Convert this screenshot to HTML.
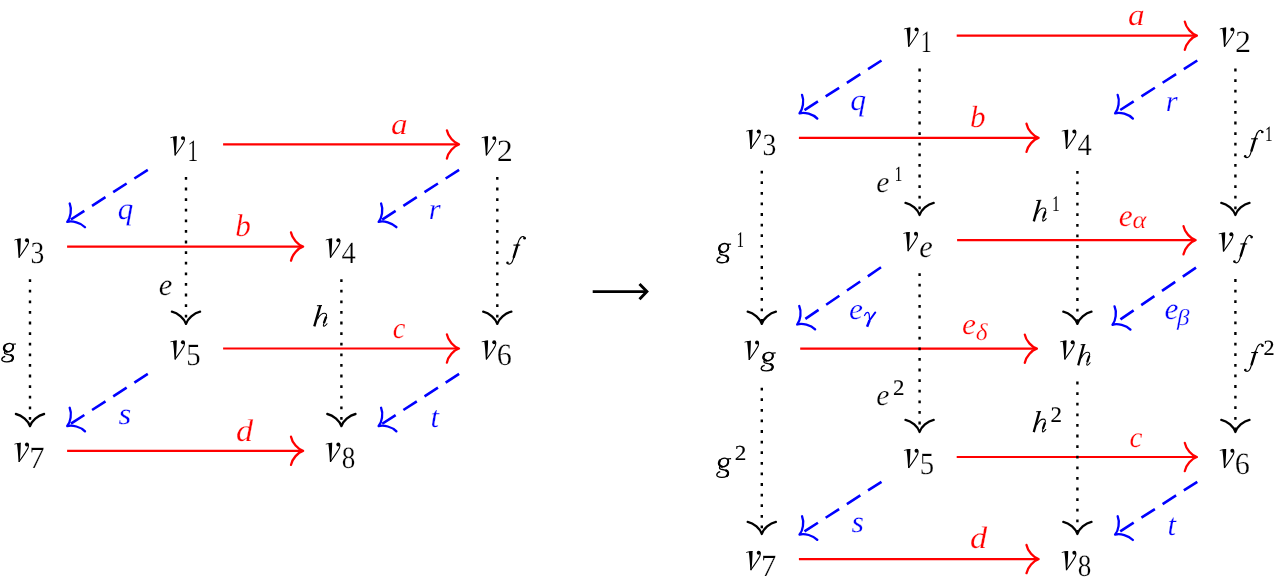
<!DOCTYPE html>
<html><head><meta charset="utf-8"><style>
html,body{margin:0;padding:0;background:#fff;overflow:hidden}
svg{display:block;font-family:"Liberation Serif",serif;will-change:transform}
text{text-rendering:geometricPrecision}
</style></head><body>
<svg width="1275" height="584" viewBox="0 0 1275 584">
<g transform="translate(170.10 136.00) scale(1.0000 1.0000)" fill="#000000"><path d="M0.1 1.7C1.6 0.9 3.2 0.5 6.5 0.3L6.5 1.3C4.0 1.3 2.2 1.6 0.3 2.2Z"/><path d="M2.8 0.9C3.6 6.0 4.1 13.0 4.4 19.5L5.6 19.5C6.3 13.0 6.6 6.0 6.7 0.3Z"/><path d="M4.9 19.3C8.4 14.5 12.4 9.0 13.9 5.6C14.5 4.1 14.6 2.6 13.9 1.6" fill="none" stroke="#000000" stroke-width="1.1"/><circle cx="12.8" cy="2.1" r="1.95"/></g>
<text transform="translate(187.15 161.10) scale(0.7170 1)" font-size="30.90" font-style="normal" fill="#000000" stroke="#fff" stroke-width="0.25" vector-effect="non-scaling-stroke">1</text>
<g transform="translate(481.40 136.00) scale(1.0000 1.0000)" fill="#000000"><path d="M0.1 1.7C1.6 0.9 3.2 0.5 6.5 0.3L6.5 1.3C4.0 1.3 2.2 1.6 0.3 2.2Z"/><path d="M2.8 0.9C3.6 6.0 4.1 13.0 4.4 19.5L5.6 19.5C6.3 13.0 6.6 6.0 6.7 0.3Z"/><path d="M4.9 19.3C8.4 14.5 12.4 9.0 13.9 5.6C14.5 4.1 14.6 2.6 13.9 1.6" fill="none" stroke="#000000" stroke-width="1.1"/><circle cx="12.8" cy="2.1" r="1.95"/></g>
<text transform="translate(496.79 161.10) scale(1.0414 1)" font-size="30.90" font-style="normal" fill="#000000" stroke="#fff" stroke-width="0.25" vector-effect="non-scaling-stroke">2</text>
<g transform="translate(14.10 238.20) scale(1.0000 1.0000)" fill="#000000"><path d="M0.1 1.7C1.6 0.9 3.2 0.5 6.5 0.3L6.5 1.3C4.0 1.3 2.2 1.6 0.3 2.2Z"/><path d="M2.8 0.9C3.6 6.0 4.1 13.0 4.4 19.5L5.6 19.5C6.3 13.0 6.6 6.0 6.7 0.3Z"/><path d="M4.9 19.3C8.4 14.5 12.4 9.0 13.9 5.6C14.5 4.1 14.6 2.6 13.9 1.6" fill="none" stroke="#000000" stroke-width="1.1"/><circle cx="12.8" cy="2.1" r="1.95"/></g>
<text transform="translate(30.58 263.30) scale(0.8931 1)" font-size="30.90" font-style="normal" fill="#000000" stroke="#fff" stroke-width="0.25" vector-effect="non-scaling-stroke">3</text>
<g transform="translate(325.50 238.20) scale(1.0000 1.0000)" fill="#000000"><path d="M0.1 1.7C1.6 0.9 3.2 0.5 6.5 0.3L6.5 1.3C4.0 1.3 2.2 1.6 0.3 2.2Z"/><path d="M2.8 0.9C3.6 6.0 4.1 13.0 4.4 19.5L5.6 19.5C6.3 13.0 6.6 6.0 6.7 0.3Z"/><path d="M4.9 19.3C8.4 14.5 12.4 9.0 13.9 5.6C14.5 4.1 14.6 2.6 13.9 1.6" fill="none" stroke="#000000" stroke-width="1.1"/><circle cx="12.8" cy="2.1" r="1.95"/></g>
<text transform="translate(341.54 263.30) scale(0.9259 1)" font-size="30.90" font-style="normal" fill="#000000" stroke="#fff" stroke-width="0.25" vector-effect="non-scaling-stroke">4</text>
<g transform="translate(170.10 340.10) scale(1.0000 1.0000)" fill="#000000"><path d="M0.1 1.7C1.6 0.9 3.2 0.5 6.5 0.3L6.5 1.3C4.0 1.3 2.2 1.6 0.3 2.2Z"/><path d="M2.8 0.9C3.6 6.0 4.1 13.0 4.4 19.5L5.6 19.5C6.3 13.0 6.6 6.0 6.7 0.3Z"/><path d="M4.9 19.3C8.4 14.5 12.4 9.0 13.9 5.6C14.5 4.1 14.6 2.6 13.9 1.6" fill="none" stroke="#000000" stroke-width="1.1"/><circle cx="12.8" cy="2.1" r="1.95"/></g>
<text transform="translate(186.13 365.20) scale(0.9319 1)" font-size="30.90" font-style="normal" fill="#000000" stroke="#fff" stroke-width="0.25" vector-effect="non-scaling-stroke">5</text>
<g transform="translate(481.40 340.10) scale(1.0000 1.0000)" fill="#000000"><path d="M0.1 1.7C1.6 0.9 3.2 0.5 6.5 0.3L6.5 1.3C4.0 1.3 2.2 1.6 0.3 2.2Z"/><path d="M2.8 0.9C3.6 6.0 4.1 13.0 4.4 19.5L5.6 19.5C6.3 13.0 6.6 6.0 6.7 0.3Z"/><path d="M4.9 19.3C8.4 14.5 12.4 9.0 13.9 5.6C14.5 4.1 14.6 2.6 13.9 1.6" fill="none" stroke="#000000" stroke-width="1.1"/><circle cx="12.8" cy="2.1" r="1.95"/></g>
<text transform="translate(496.70 365.20) scale(0.9771 1)" font-size="30.90" font-style="normal" fill="#000000" stroke="#fff" stroke-width="0.25" vector-effect="non-scaling-stroke">6</text>
<g transform="translate(14.10 442.40) scale(1.0000 1.0000)" fill="#000000"><path d="M0.1 1.7C1.6 0.9 3.2 0.5 6.5 0.3L6.5 1.3C4.0 1.3 2.2 1.6 0.3 2.2Z"/><path d="M2.8 0.9C3.6 6.0 4.1 13.0 4.4 19.5L5.6 19.5C6.3 13.0 6.6 6.0 6.7 0.3Z"/><path d="M4.9 19.3C8.4 14.5 12.4 9.0 13.9 5.6C14.5 4.1 14.6 2.6 13.9 1.6" fill="none" stroke="#000000" stroke-width="1.1"/><circle cx="12.8" cy="2.1" r="1.95"/></g>
<text transform="translate(29.28 467.50) scale(0.9902 1)" font-size="30.90" font-style="normal" fill="#000000" stroke="#fff" stroke-width="0.25" vector-effect="non-scaling-stroke">7</text>
<g transform="translate(325.50 442.40) scale(1.0000 1.0000)" fill="#000000"><path d="M0.1 1.7C1.6 0.9 3.2 0.5 6.5 0.3L6.5 1.3C4.0 1.3 2.2 1.6 0.3 2.2Z"/><path d="M2.8 0.9C3.6 6.0 4.1 13.0 4.4 19.5L5.6 19.5C6.3 13.0 6.6 6.0 6.7 0.3Z"/><path d="M4.9 19.3C8.4 14.5 12.4 9.0 13.9 5.6C14.5 4.1 14.6 2.6 13.9 1.6" fill="none" stroke="#000000" stroke-width="1.1"/><circle cx="12.8" cy="2.1" r="1.95"/></g>
<text transform="translate(341.67 467.50) scale(0.8781 1)" font-size="30.90" font-style="normal" fill="#000000" stroke="#fff" stroke-width="0.25" vector-effect="non-scaling-stroke">8</text>
<line x1="223.10" y1="144.40" x2="458.00" y2="144.40" stroke="#ff0000" stroke-width="2.2"/>
<path d="M446.90 158.50C448.00 152.40 454.00 145.90 459.00 144.40C454.00 142.90 448.00 136.40 446.90 130.30" fill="none" stroke="#ff0000" stroke-width="2.30" stroke-linecap="round" stroke-linejoin="round"/>
<line x1="67.10" y1="246.60" x2="302.10" y2="246.60" stroke="#ff0000" stroke-width="2.2"/>
<path d="M291.00 260.70C292.10 254.60 298.10 248.10 303.10 246.60C298.10 245.10 292.10 238.60 291.00 232.50" fill="none" stroke="#ff0000" stroke-width="2.30" stroke-linecap="round" stroke-linejoin="round"/>
<line x1="223.10" y1="348.50" x2="458.00" y2="348.50" stroke="#ff0000" stroke-width="2.2"/>
<path d="M446.90 362.60C448.00 356.50 454.00 350.00 459.00 348.50C454.00 347.00 448.00 340.50 446.90 334.40" fill="none" stroke="#ff0000" stroke-width="2.30" stroke-linecap="round" stroke-linejoin="round"/>
<line x1="67.10" y1="450.80" x2="302.10" y2="450.80" stroke="#ff0000" stroke-width="2.2"/>
<path d="M291.00 464.90C292.10 458.80 298.10 452.30 303.10 450.80C298.10 449.30 292.10 442.80 291.00 436.70" fill="none" stroke="#ff0000" stroke-width="2.30" stroke-linecap="round" stroke-linejoin="round"/>
<line x1="186.00" y1="177.00" x2="186.00" y2="322.40" stroke="#000000" stroke-width="2.4" stroke-dasharray="2.8 7.8"/>
<path d="M171.90 311.70C178.00 312.80 184.50 318.80 186.00 323.80C187.50 318.80 194.00 312.80 200.10 311.70" fill="none" stroke="#000000" stroke-width="2.30" stroke-linecap="round" stroke-linejoin="round"/>
<line x1="497.30" y1="177.00" x2="497.30" y2="322.40" stroke="#000000" stroke-width="2.4" stroke-dasharray="2.8 7.8"/>
<path d="M483.20 311.70C489.30 312.80 495.80 318.80 497.30 323.80C498.80 318.80 505.30 312.80 511.40 311.70" fill="none" stroke="#000000" stroke-width="2.30" stroke-linecap="round" stroke-linejoin="round"/>
<line x1="30.00" y1="279.20" x2="30.00" y2="424.70" stroke="#000000" stroke-width="2.4" stroke-dasharray="2.8 7.8"/>
<path d="M15.90 414.00C22.00 415.10 28.50 421.10 30.00 426.10C31.50 421.10 38.00 415.10 44.10 414.00" fill="none" stroke="#000000" stroke-width="2.30" stroke-linecap="round" stroke-linejoin="round"/>
<line x1="341.40" y1="279.20" x2="341.40" y2="424.70" stroke="#000000" stroke-width="2.4" stroke-dasharray="2.8 7.8"/>
<path d="M327.30 414.00C333.40 415.10 339.90 421.10 341.40 426.10C342.90 421.10 349.40 415.10 355.50 414.00" fill="none" stroke="#000000" stroke-width="2.30" stroke-linecap="round" stroke-linejoin="round"/>
<line x1="147.80" y1="169.80" x2="68.04" y2="221.36" stroke="#0000ff" stroke-width="2.6" stroke-dasharray="16 9.2"/>
<path d="M69.71 203.49C72.10 209.21 70.58 217.93 67.20 221.90C72.21 220.45 80.78 222.65 85.02 227.17" fill="none" stroke="#0000ff" stroke-width="2.30" stroke-linecap="round" stroke-linejoin="round"/>
<line x1="459.10" y1="169.80" x2="379.44" y2="221.36" stroke="#0000ff" stroke-width="2.6" stroke-dasharray="16 9.2"/>
<path d="M381.10 203.49C383.49 209.21 381.98 217.92 378.60 221.90C383.61 220.44 392.18 222.64 396.42 227.16" fill="none" stroke="#0000ff" stroke-width="2.30" stroke-linecap="round" stroke-linejoin="round"/>
<line x1="147.80" y1="373.90" x2="68.04" y2="425.56" stroke="#0000ff" stroke-width="2.6" stroke-dasharray="16 9.2"/>
<path d="M69.69 407.69C72.08 413.41 70.58 422.12 67.20 426.10C72.21 424.64 80.78 426.84 85.02 431.36" fill="none" stroke="#0000ff" stroke-width="2.30" stroke-linecap="round" stroke-linejoin="round"/>
<line x1="459.10" y1="373.90" x2="379.44" y2="425.56" stroke="#0000ff" stroke-width="2.6" stroke-dasharray="16 9.2"/>
<path d="M381.08 407.69C383.48 413.40 381.98 422.12 378.60 426.10C383.61 424.64 392.18 426.83 396.42 431.35" fill="none" stroke="#0000ff" stroke-width="2.30" stroke-linecap="round" stroke-linejoin="round"/>
<text transform="translate(391.01 133.99) scale(1.1117 1)" font-size="29.94" font-style="italic" fill="#ff0000" stroke="#fff" stroke-width="0.25" vector-effect="non-scaling-stroke">a</text>
<text transform="translate(235.34 236.19) scale(0.9890 1)" font-size="31.55" font-style="italic" fill="#ff0000" stroke="#fff" stroke-width="0.25" vector-effect="non-scaling-stroke">b</text>
<text transform="translate(392.63 338.21) scale(0.9463 1)" font-size="29.94" font-style="italic" fill="#ff0000" stroke="#fff" stroke-width="0.25" vector-effect="non-scaling-stroke">c</text>
<text transform="translate(236.06 440.58) scale(1.0882 1)" font-size="31.53" font-style="italic" fill="#ff0000" stroke="#fff" stroke-width="0.25" vector-effect="non-scaling-stroke">d</text>
<text transform="translate(117.77 219.36) scale(1.0139 1)" font-size="30.70" font-style="italic" fill="#0000ff" stroke="#fff" stroke-width="0.25" vector-effect="non-scaling-stroke">q</text>
<text transform="translate(428.86 219.40) scale(1.0266 1)" font-size="29.92" font-style="italic" fill="#0000ff" stroke="#fff" stroke-width="0.25" vector-effect="non-scaling-stroke">r</text>
<text transform="translate(118.50 423.50) scale(1.0759 1)" font-size="30.56" font-style="italic" fill="#0000ff" stroke="#fff" stroke-width="0.25" vector-effect="non-scaling-stroke">s</text>
<text transform="translate(430.55 426.80) scale(1.0112 1)" font-size="30.38" font-style="italic" fill="#0000ff" stroke="#fff" stroke-width="0.25" vector-effect="non-scaling-stroke">t</text>
<text transform="translate(158.66 294.70) scale(1.0051 1)" font-size="30.56" font-style="italic" fill="#000000" stroke="#fff" stroke-width="0.25" vector-effect="non-scaling-stroke">e</text>
<g transform="translate(506.20 236.20) scale(1.0000 1.0000)" fill="none" stroke="#000000" stroke-linecap="round"><path d="M18.3 1.9C18.2 0.4 16.6 -0.1 15.2 0.8C13.6 1.9 12.6 4.0 11.8 6.9L7.0 22.9C6.2 25.8 4.6 27.9 3.0 27.9C1.9 27.9 1.1 27.3 1.0 26.6" stroke-width="1.15"/><path d="M11.3 8.6L7.6 20.8" stroke-width="2.4"/><path d="M7.2 8.9H14.0" stroke-width="1.1" stroke-linecap="butt"/><circle cx="18.4" cy="2.0" r="1.35" fill="#000000" stroke="none"/><circle cx="1.3" cy="26.6" r="1.25" fill="#000000" stroke="none"/></g>
<g transform="translate(1.00 342.70) scale(1.0000 1.0000)" fill="none" stroke="#000000"><ellipse cx="7.6" cy="4.9" rx="4.9" ry="3.9" transform="rotate(-22 7.6 4.9)" stroke-width="1.45"/><path d="M10.6 1.6L15.0 1.3" stroke-width="1.1"/><path d="M3.8 3.1Q1.5 7.4 5.8 8.9" stroke-width="2.3" stroke-linecap="round"/><path d="M12.0 2.4Q12.7 5.0 11.2 6.9" stroke-width="1.8" stroke-linecap="round"/><path d="M10.0 12.4C12.2 13.3 12.8 15.5 10.8 17.8" stroke-width="2.2" stroke-linecap="round"/><path d="M4.6 8.4C3.2 9.4 3.0 10.6 4.6 11.2C7.5 12.0 11.6 12.4 12.3 14.8C12.9 17.2 9.6 19.2 5.6 19.1C2.2 19.0 0.6 17.9 0.8 16.5C1.0 15.1 2.4 14.1 4.2 13.6" stroke-width="1.35"/></g>
<g transform="translate(313.00 305.10) scale(1.0000 1.0000)" fill="none" stroke="#000000"><path d="M3.9 0.75L9.0 0.45" stroke-width="1.05"/><path d="M7.3 0.6L1.3 21.3" stroke-width="2.4"/><path d="M4.6 13.8C6.4 10.6 9.0 8.2 11.5 8.2C13.3 8.2 13.9 9.6 13.4 11.3L10.7 18.8C10.1 20.5 10.4 21.3 11.1 21.1C12.1 20.8 13.2 19.7 14.0 18.6" stroke-width="1.05" stroke-linecap="round"/><path d="M13.2 11.6L10.9 18.0" stroke-width="2.3"/></g>
<g transform="translate(903.70 27.30) scale(1.0000 1.0000)" fill="#000000"><path d="M0.1 1.7C1.6 0.9 3.2 0.5 6.5 0.3L6.5 1.3C4.0 1.3 2.2 1.6 0.3 2.2Z"/><path d="M2.8 0.9C3.6 6.0 4.1 13.0 4.4 19.5L5.6 19.5C6.3 13.0 6.6 6.0 6.7 0.3Z"/><path d="M4.9 19.3C8.4 14.5 12.4 9.0 13.9 5.6C14.5 4.1 14.6 2.6 13.9 1.6" fill="none" stroke="#000000" stroke-width="1.1"/><circle cx="12.8" cy="2.1" r="1.95"/></g>
<text transform="translate(920.75 52.40) scale(0.7170 1)" font-size="30.90" font-style="normal" fill="#000000" stroke="#fff" stroke-width="0.25" vector-effect="non-scaling-stroke">1</text>
<g transform="translate(1219.50 27.30) scale(1.0000 1.0000)" fill="#000000"><path d="M0.1 1.7C1.6 0.9 3.2 0.5 6.5 0.3L6.5 1.3C4.0 1.3 2.2 1.6 0.3 2.2Z"/><path d="M2.8 0.9C3.6 6.0 4.1 13.0 4.4 19.5L5.6 19.5C6.3 13.0 6.6 6.0 6.7 0.3Z"/><path d="M4.9 19.3C8.4 14.5 12.4 9.0 13.9 5.6C14.5 4.1 14.6 2.6 13.9 1.6" fill="none" stroke="#000000" stroke-width="1.1"/><circle cx="12.8" cy="2.1" r="1.95"/></g>
<text transform="translate(1234.89 52.40) scale(1.0414 1)" font-size="30.90" font-style="normal" fill="#000000" stroke="#fff" stroke-width="0.25" vector-effect="non-scaling-stroke">2</text>
<g transform="translate(745.90 129.40) scale(1.0000 1.0000)" fill="#000000"><path d="M0.1 1.7C1.6 0.9 3.2 0.5 6.5 0.3L6.5 1.3C4.0 1.3 2.2 1.6 0.3 2.2Z"/><path d="M2.8 0.9C3.6 6.0 4.1 13.0 4.4 19.5L5.6 19.5C6.3 13.0 6.6 6.0 6.7 0.3Z"/><path d="M4.9 19.3C8.4 14.5 12.4 9.0 13.9 5.6C14.5 4.1 14.6 2.6 13.9 1.6" fill="none" stroke="#000000" stroke-width="1.1"/><circle cx="12.8" cy="2.1" r="1.95"/></g>
<text transform="translate(762.38 154.50) scale(0.8931 1)" font-size="30.90" font-style="normal" fill="#000000" stroke="#fff" stroke-width="0.25" vector-effect="non-scaling-stroke">3</text>
<g transform="translate(1061.50 129.40) scale(1.0000 1.0000)" fill="#000000"><path d="M0.1 1.7C1.6 0.9 3.2 0.5 6.5 0.3L6.5 1.3C4.0 1.3 2.2 1.6 0.3 2.2Z"/><path d="M2.8 0.9C3.6 6.0 4.1 13.0 4.4 19.5L5.6 19.5C6.3 13.0 6.6 6.0 6.7 0.3Z"/><path d="M4.9 19.3C8.4 14.5 12.4 9.0 13.9 5.6C14.5 4.1 14.6 2.6 13.9 1.6" fill="none" stroke="#000000" stroke-width="1.1"/><circle cx="12.8" cy="2.1" r="1.95"/></g>
<text transform="translate(1077.54 154.50) scale(0.9259 1)" font-size="30.90" font-style="normal" fill="#000000" stroke="#fff" stroke-width="0.25" vector-effect="non-scaling-stroke">4</text>
<g transform="translate(903.70 448.60) scale(1.0000 1.0000)" fill="#000000"><path d="M0.1 1.7C1.6 0.9 3.2 0.5 6.5 0.3L6.5 1.3C4.0 1.3 2.2 1.6 0.3 2.2Z"/><path d="M2.8 0.9C3.6 6.0 4.1 13.0 4.4 19.5L5.6 19.5C6.3 13.0 6.6 6.0 6.7 0.3Z"/><path d="M4.9 19.3C8.4 14.5 12.4 9.0 13.9 5.6C14.5 4.1 14.6 2.6 13.9 1.6" fill="none" stroke="#000000" stroke-width="1.1"/><circle cx="12.8" cy="2.1" r="1.95"/></g>
<text transform="translate(919.73 473.70) scale(0.9319 1)" font-size="30.90" font-style="normal" fill="#000000" stroke="#fff" stroke-width="0.25" vector-effect="non-scaling-stroke">5</text>
<g transform="translate(1219.50 448.60) scale(1.0000 1.0000)" fill="#000000"><path d="M0.1 1.7C1.6 0.9 3.2 0.5 6.5 0.3L6.5 1.3C4.0 1.3 2.2 1.6 0.3 2.2Z"/><path d="M2.8 0.9C3.6 6.0 4.1 13.0 4.4 19.5L5.6 19.5C6.3 13.0 6.6 6.0 6.7 0.3Z"/><path d="M4.9 19.3C8.4 14.5 12.4 9.0 13.9 5.6C14.5 4.1 14.6 2.6 13.9 1.6" fill="none" stroke="#000000" stroke-width="1.1"/><circle cx="12.8" cy="2.1" r="1.95"/></g>
<text transform="translate(1234.80 473.70) scale(0.9771 1)" font-size="30.90" font-style="normal" fill="#000000" stroke="#fff" stroke-width="0.25" vector-effect="non-scaling-stroke">6</text>
<g transform="translate(745.90 550.70) scale(1.0000 1.0000)" fill="#000000"><path d="M0.1 1.7C1.6 0.9 3.2 0.5 6.5 0.3L6.5 1.3C4.0 1.3 2.2 1.6 0.3 2.2Z"/><path d="M2.8 0.9C3.6 6.0 4.1 13.0 4.4 19.5L5.6 19.5C6.3 13.0 6.6 6.0 6.7 0.3Z"/><path d="M4.9 19.3C8.4 14.5 12.4 9.0 13.9 5.6C14.5 4.1 14.6 2.6 13.9 1.6" fill="none" stroke="#000000" stroke-width="1.1"/><circle cx="12.8" cy="2.1" r="1.95"/></g>
<text transform="translate(761.08 575.80) scale(0.9902 1)" font-size="30.90" font-style="normal" fill="#000000" stroke="#fff" stroke-width="0.25" vector-effect="non-scaling-stroke">7</text>
<g transform="translate(1061.50 550.70) scale(1.0000 1.0000)" fill="#000000"><path d="M0.1 1.7C1.6 0.9 3.2 0.5 6.5 0.3L6.5 1.3C4.0 1.3 2.2 1.6 0.3 2.2Z"/><path d="M2.8 0.9C3.6 6.0 4.1 13.0 4.4 19.5L5.6 19.5C6.3 13.0 6.6 6.0 6.7 0.3Z"/><path d="M4.9 19.3C8.4 14.5 12.4 9.0 13.9 5.6C14.5 4.1 14.6 2.6 13.9 1.6" fill="none" stroke="#000000" stroke-width="1.1"/><circle cx="12.8" cy="2.1" r="1.95"/></g>
<text transform="translate(1077.67 575.80) scale(0.8781 1)" font-size="30.90" font-style="normal" fill="#000000" stroke="#fff" stroke-width="0.25" vector-effect="non-scaling-stroke">8</text>
<g transform="translate(903.10 231.70) scale(1.0000 1.0000)" fill="#000000"><path d="M0.1 1.7C1.6 0.9 3.2 0.5 6.5 0.3L6.5 1.3C4.0 1.3 2.2 1.6 0.3 2.2Z"/><path d="M2.8 0.9C3.6 6.0 4.1 13.0 4.4 19.5L5.6 19.5C6.3 13.0 6.6 6.0 6.7 0.3Z"/><path d="M4.9 19.3C8.4 14.5 12.4 9.0 13.9 5.6C14.5 4.1 14.6 2.6 13.9 1.6" fill="none" stroke="#000000" stroke-width="1.1"/><circle cx="12.8" cy="2.1" r="1.95"/></g>
<text transform="translate(919.36 257.10) scale(0.9768 1)" font-size="31.19" font-style="italic" fill="#000000" stroke="#fff" stroke-width="0.25" vector-effect="non-scaling-stroke">e</text>
<g transform="translate(1218.50 232.10) scale(1.0000 1.0000)" fill="#000000"><path d="M0.1 1.7C1.6 0.9 3.2 0.5 6.5 0.3L6.5 1.3C4.0 1.3 2.2 1.6 0.3 2.2Z"/><path d="M2.8 0.9C3.6 6.0 4.1 13.0 4.4 19.5L5.6 19.5C6.3 13.0 6.6 6.0 6.7 0.3Z"/><path d="M4.9 19.3C8.4 14.5 12.4 9.0 13.9 5.6C14.5 4.1 14.6 2.6 13.9 1.6" fill="none" stroke="#000000" stroke-width="1.1"/><circle cx="12.8" cy="2.1" r="1.95"/></g>
<g transform="translate(1233.10 235.10) scale(1.0051 0.9930)" fill="none" stroke="#000000" stroke-linecap="round"><path d="M18.3 1.9C18.2 0.4 16.6 -0.1 15.2 0.8C13.6 1.9 12.6 4.0 11.8 6.9L7.0 22.9C6.2 25.8 4.6 27.9 3.0 27.9C1.9 27.9 1.1 27.3 1.0 26.6" stroke-width="1.15"/><path d="M11.3 8.6L7.6 20.8" stroke-width="2.4"/><path d="M7.2 8.9H14.0" stroke-width="1.1" stroke-linecap="butt"/><circle cx="18.4" cy="2.0" r="1.35" fill="#000000" stroke="none"/><circle cx="1.3" cy="26.6" r="1.25" fill="#000000" stroke="none"/></g>
<g transform="translate(744.20 340.40) scale(1.0000 1.0000)" fill="#000000"><path d="M0.1 1.7C1.6 0.9 3.2 0.5 6.5 0.3L6.5 1.3C4.0 1.3 2.2 1.6 0.3 2.2Z"/><path d="M2.8 0.9C3.6 6.0 4.1 13.0 4.4 19.5L5.6 19.5C6.3 13.0 6.6 6.0 6.7 0.3Z"/><path d="M4.9 19.3C8.4 14.5 12.4 9.0 13.9 5.6C14.5 4.1 14.6 2.6 13.9 1.6" fill="none" stroke="#000000" stroke-width="1.1"/><circle cx="12.8" cy="2.1" r="1.95"/></g>
<g transform="translate(760.40 351.60) scale(1.0199 1.0101)" fill="none" stroke="#000000"><ellipse cx="7.6" cy="4.9" rx="4.9" ry="3.9" transform="rotate(-22 7.6 4.9)" stroke-width="1.45"/><path d="M10.6 1.6L15.0 1.3" stroke-width="1.1"/><path d="M3.8 3.1Q1.5 7.4 5.8 8.9" stroke-width="2.3" stroke-linecap="round"/><path d="M12.0 2.4Q12.7 5.0 11.2 6.9" stroke-width="1.8" stroke-linecap="round"/><path d="M10.0 12.4C12.2 13.3 12.8 15.5 10.8 17.8" stroke-width="2.2" stroke-linecap="round"/><path d="M4.6 8.4C3.2 9.4 3.0 10.6 4.6 11.2C7.5 12.0 11.6 12.4 12.3 14.8C12.9 17.2 9.6 19.2 5.6 19.1C2.2 19.0 0.6 17.9 0.8 16.5C1.0 15.1 2.4 14.1 4.2 13.6" stroke-width="1.35"/></g>
<g transform="translate(1059.80 340.10) scale(1.0000 1.0000)" fill="#000000"><path d="M0.1 1.7C1.6 0.9 3.2 0.5 6.5 0.3L6.5 1.3C4.0 1.3 2.2 1.6 0.3 2.2Z"/><path d="M2.8 0.9C3.6 6.0 4.1 13.0 4.4 19.5L5.6 19.5C6.3 13.0 6.6 6.0 6.7 0.3Z"/><path d="M4.9 19.3C8.4 14.5 12.4 9.0 13.9 5.6C14.5 4.1 14.6 2.6 13.9 1.6" fill="none" stroke="#000000" stroke-width="1.1"/><circle cx="12.8" cy="2.1" r="1.95"/></g>
<g transform="translate(1077.00 344.00) scale(0.9362 1.0046)" fill="none" stroke="#000000"><path d="M3.9 0.75L9.0 0.45" stroke-width="1.05"/><path d="M7.3 0.6L1.3 21.3" stroke-width="2.4"/><path d="M4.6 13.8C6.4 10.6 9.0 8.2 11.5 8.2C13.3 8.2 13.9 9.6 13.4 11.3L10.7 18.8C10.1 20.5 10.4 21.3 11.1 21.1C12.1 20.8 13.2 19.7 14.0 18.6" stroke-width="1.05" stroke-linecap="round"/><path d="M13.2 11.6L10.9 18.0" stroke-width="2.3"/></g>
<line x1="956.70" y1="35.70" x2="1195.90" y2="35.70" stroke="#ff0000" stroke-width="2.2"/>
<path d="M1184.80 49.80C1185.90 43.70 1191.90 37.20 1196.90 35.70C1191.90 34.20 1185.90 27.70 1184.80 21.60" fill="none" stroke="#ff0000" stroke-width="2.30" stroke-linecap="round" stroke-linejoin="round"/>
<line x1="798.90" y1="137.80" x2="1037.60" y2="137.80" stroke="#ff0000" stroke-width="2.2"/>
<path d="M1026.50 151.90C1027.60 145.80 1033.60 139.30 1038.60 137.80C1033.60 136.30 1027.60 129.80 1026.50 123.70" fill="none" stroke="#ff0000" stroke-width="2.30" stroke-linecap="round" stroke-linejoin="round"/>
<line x1="957.10" y1="240.20" x2="1194.60" y2="240.20" stroke="#ff0000" stroke-width="2.2"/>
<path d="M1183.50 254.30C1184.60 248.20 1190.60 241.70 1195.60 240.20C1190.60 238.70 1184.60 232.20 1183.50 226.10" fill="none" stroke="#ff0000" stroke-width="2.30" stroke-linecap="round" stroke-linejoin="round"/>
<line x1="800.20" y1="348.70" x2="1035.90" y2="348.70" stroke="#ff0000" stroke-width="2.2"/>
<path d="M1024.80 362.80C1025.90 356.70 1031.90 350.20 1036.90 348.70C1031.90 347.20 1025.90 340.70 1024.80 334.60" fill="none" stroke="#ff0000" stroke-width="2.30" stroke-linecap="round" stroke-linejoin="round"/>
<line x1="956.70" y1="457.00" x2="1195.90" y2="457.00" stroke="#ff0000" stroke-width="2.2"/>
<path d="M1184.80 471.10C1185.90 465.00 1191.90 458.50 1196.90 457.00C1191.90 455.50 1185.90 449.00 1184.80 442.90" fill="none" stroke="#ff0000" stroke-width="2.30" stroke-linecap="round" stroke-linejoin="round"/>
<line x1="798.90" y1="559.10" x2="1037.60" y2="559.10" stroke="#ff0000" stroke-width="2.2"/>
<path d="M1026.50 573.20C1027.60 567.10 1033.60 560.60 1038.60 559.10C1033.60 557.60 1027.60 551.10 1026.50 545.00" fill="none" stroke="#ff0000" stroke-width="2.30" stroke-linecap="round" stroke-linejoin="round"/>
<line x1="919.60" y1="68.60" x2="919.60" y2="213.60" stroke="#000000" stroke-width="2.4" stroke-dasharray="2.8 7.8"/>
<path d="M905.50 202.90C911.60 204.00 918.10 210.00 919.60 215.00C921.10 210.00 927.60 204.00 933.70 202.90" fill="none" stroke="#000000" stroke-width="2.30" stroke-linecap="round" stroke-linejoin="round"/>
<line x1="1235.40" y1="68.60" x2="1235.40" y2="213.60" stroke="#000000" stroke-width="2.4" stroke-dasharray="2.8 7.8"/>
<path d="M1221.30 202.90C1227.40 204.00 1233.90 210.00 1235.40 215.00C1236.90 210.00 1243.40 204.00 1249.50 202.90" fill="none" stroke="#000000" stroke-width="2.30" stroke-linecap="round" stroke-linejoin="round"/>
<line x1="761.80" y1="170.70" x2="761.80" y2="322.40" stroke="#000000" stroke-width="2.4" stroke-dasharray="2.8 7.8"/>
<path d="M747.70 311.70C753.80 312.80 760.30 318.80 761.80 323.80C763.30 318.80 769.80 312.80 775.90 311.70" fill="none" stroke="#000000" stroke-width="2.30" stroke-linecap="round" stroke-linejoin="round"/>
<line x1="1077.40" y1="170.90" x2="1077.40" y2="322.40" stroke="#000000" stroke-width="2.4" stroke-dasharray="2.8 7.8"/>
<path d="M1063.30 311.70C1069.40 312.80 1075.90 318.80 1077.40 323.80C1078.90 318.80 1085.40 312.80 1091.50 311.70" fill="none" stroke="#000000" stroke-width="2.30" stroke-linecap="round" stroke-linejoin="round"/>
<line x1="919.60" y1="273.20" x2="919.60" y2="430.60" stroke="#000000" stroke-width="2.4" stroke-dasharray="2.8 7.8"/>
<path d="M905.50 419.90C911.60 421.00 918.10 427.00 919.60 432.00C921.10 427.00 927.60 421.00 933.70 419.90" fill="none" stroke="#000000" stroke-width="2.30" stroke-linecap="round" stroke-linejoin="round"/>
<line x1="1235.40" y1="279.10" x2="1235.40" y2="430.60" stroke="#000000" stroke-width="2.4" stroke-dasharray="2.8 7.8"/>
<path d="M1221.30 419.90C1227.40 421.00 1233.90 427.00 1235.40 432.00C1236.90 427.00 1243.40 421.00 1249.50 419.90" fill="none" stroke="#000000" stroke-width="2.30" stroke-linecap="round" stroke-linejoin="round"/>
<line x1="761.80" y1="387.70" x2="761.80" y2="532.60" stroke="#000000" stroke-width="2.4" stroke-dasharray="2.8 7.8"/>
<path d="M747.70 521.90C753.80 523.00 760.30 529.00 761.80 534.00C763.30 529.00 769.80 523.00 775.90 521.90" fill="none" stroke="#000000" stroke-width="2.30" stroke-linecap="round" stroke-linejoin="round"/>
<line x1="1077.40" y1="381.60" x2="1077.40" y2="532.60" stroke="#000000" stroke-width="2.4" stroke-dasharray="2.8 7.8"/>
<path d="M1063.30 521.90C1069.40 523.00 1075.90 529.00 1077.40 534.00C1078.90 529.00 1085.40 523.00 1091.50 521.90" fill="none" stroke="#000000" stroke-width="2.30" stroke-linecap="round" stroke-linejoin="round"/>
<line x1="881.50" y1="60.50" x2="800.34" y2="112.76" stroke="#0000ff" stroke-width="2.6" stroke-dasharray="16 9.2"/>
<path d="M802.04 94.89C804.42 100.62 802.89 109.33 799.50 113.30C804.52 111.85 813.08 114.07 817.31 118.60" fill="none" stroke="#0000ff" stroke-width="2.30" stroke-linecap="round" stroke-linejoin="round"/>
<line x1="1197.30" y1="60.50" x2="1115.94" y2="112.76" stroke="#0000ff" stroke-width="2.6" stroke-dasharray="16 9.2"/>
<path d="M1117.66 94.90C1120.03 100.62 1118.50 109.34 1115.10 113.30C1120.12 111.86 1128.68 114.09 1132.90 118.62" fill="none" stroke="#0000ff" stroke-width="2.30" stroke-linecap="round" stroke-linejoin="round"/>
<line x1="881.50" y1="481.80" x2="800.34" y2="534.06" stroke="#0000ff" stroke-width="2.6" stroke-dasharray="16 9.2"/>
<path d="M802.04 516.19C804.42 521.92 802.89 530.63 799.50 534.60C804.52 533.15 813.08 535.37 817.31 539.90" fill="none" stroke="#0000ff" stroke-width="2.30" stroke-linecap="round" stroke-linejoin="round"/>
<line x1="1197.30" y1="481.80" x2="1115.94" y2="534.06" stroke="#0000ff" stroke-width="2.6" stroke-dasharray="16 9.2"/>
<path d="M1117.66 516.20C1120.03 521.92 1118.50 530.64 1115.10 534.60C1120.12 533.16 1128.68 535.39 1132.90 539.92" fill="none" stroke="#0000ff" stroke-width="2.30" stroke-linecap="round" stroke-linejoin="round"/>
<line x1="881.00" y1="267.30" x2="798.03" y2="323.94" stroke="#0000ff" stroke-width="2.6" stroke-dasharray="16 9.2"/>
<path d="M799.24 306.03C801.78 311.69 800.48 320.44 797.20 324.50C802.18 322.92 810.80 324.91 815.14 329.32" fill="none" stroke="#0000ff" stroke-width="2.30" stroke-linecap="round" stroke-linejoin="round"/>
<line x1="1196.00" y1="267.60" x2="1113.32" y2="324.23" stroke="#0000ff" stroke-width="2.6" stroke-dasharray="16 9.2"/>
<path d="M1114.51 306.33C1117.05 311.98 1115.78 320.74 1112.50 324.80C1117.47 323.21 1126.10 325.18 1130.45 329.59" fill="none" stroke="#0000ff" stroke-width="2.30" stroke-linecap="round" stroke-linejoin="round"/>
<text transform="translate(1127.91 25.49) scale(1.0890 1)" font-size="30.56" font-style="italic" fill="#ff0000" stroke="#fff" stroke-width="0.25" vector-effect="non-scaling-stroke">a</text>
<text transform="translate(969.94 127.30) scale(1.0165 1)" font-size="30.70" font-style="italic" fill="#ff0000" stroke="#fff" stroke-width="0.25" vector-effect="non-scaling-stroke">b</text>
<text transform="translate(1129.41 446.71) scale(0.9919 1)" font-size="29.32" font-style="italic" fill="#ff0000" stroke="#fff" stroke-width="0.25" vector-effect="non-scaling-stroke">c</text>
<text transform="translate(970.06 548.48) scale(1.1031 1)" font-size="31.10" font-style="italic" fill="#ff0000" stroke="#fff" stroke-width="0.25" vector-effect="non-scaling-stroke">d</text>
<text transform="translate(850.34 110.36) scale(1.0510 1)" font-size="30.26" font-style="italic" fill="#0000ff" stroke="#fff" stroke-width="0.25" vector-effect="non-scaling-stroke">q</text>
<text transform="translate(1165.86 110.80) scale(1.0266 1)" font-size="29.92" font-style="italic" fill="#0000ff" stroke="#fff" stroke-width="0.25" vector-effect="non-scaling-stroke">r</text>
<text transform="translate(851.41 532.30) scale(1.0476 1)" font-size="30.56" font-style="italic" fill="#0000ff" stroke="#fff" stroke-width="0.25" vector-effect="non-scaling-stroke">s</text>
<text transform="translate(1167.55 535.30) scale(0.9941 1)" font-size="30.90" font-style="italic" fill="#0000ff" stroke="#fff" stroke-width="0.25" vector-effect="non-scaling-stroke">t</text>
<text transform="translate(876.29 191.51) scale(0.9988 1)" font-size="29.73" font-style="italic" fill="#000000" stroke="#fff" stroke-width="0.25" vector-effect="non-scaling-stroke">e</text>
<text transform="translate(894.70 180.50) scale(0.6819 1)" font-size="21.66" font-style="normal" fill="#000000" stroke="#000000" stroke-width="0.15" vector-effect="non-scaling-stroke" stroke-linejoin="round">1</text>
<g transform="translate(1243.90 130.00) scale(1.0000 0.9895)" fill="none" stroke="#000000" stroke-linecap="round"><path d="M18.3 1.9C18.2 0.4 16.6 -0.1 15.2 0.8C13.6 1.9 12.6 4.0 11.8 6.9L7.0 22.9C6.2 25.8 4.6 27.9 3.0 27.9C1.9 27.9 1.1 27.3 1.0 26.6" stroke-width="1.15"/><path d="M11.3 8.6L7.6 20.8" stroke-width="2.4"/><path d="M7.2 8.9H14.0" stroke-width="1.1" stroke-linecap="butt"/><circle cx="18.4" cy="2.0" r="1.35" fill="#000000" stroke="none"/><circle cx="1.3" cy="26.6" r="1.25" fill="#000000" stroke="none"/></g>
<text transform="translate(1265.35 140.80) scale(0.6603 1)" font-size="21.51" font-style="normal" fill="#000000" stroke="#000000" stroke-width="0.15" vector-effect="non-scaling-stroke" stroke-linejoin="round">1</text>
<g transform="translate(716.20 242.70) scale(0.9934 1.0505)" fill="none" stroke="#000000"><ellipse cx="7.6" cy="4.9" rx="4.9" ry="3.9" transform="rotate(-22 7.6 4.9)" stroke-width="1.45"/><path d="M10.6 1.6L15.0 1.3" stroke-width="1.1"/><path d="M3.8 3.1Q1.5 7.4 5.8 8.9" stroke-width="2.3" stroke-linecap="round"/><path d="M12.0 2.4Q12.7 5.0 11.2 6.9" stroke-width="1.8" stroke-linecap="round"/><path d="M10.0 12.4C12.2 13.3 12.8 15.5 10.8 17.8" stroke-width="2.2" stroke-linecap="round"/><path d="M4.6 8.4C3.2 9.4 3.0 10.6 4.6 11.2C7.5 12.0 11.6 12.4 12.3 14.8C12.9 17.2 9.6 19.2 5.6 19.1C2.2 19.0 0.6 17.9 0.8 16.5C1.0 15.1 2.4 14.1 4.2 13.6" stroke-width="1.35"/></g>
<text transform="translate(736.85 246.60) scale(0.6378 1)" font-size="22.27" font-style="normal" fill="#000000" stroke="#000000" stroke-width="0.15" vector-effect="non-scaling-stroke" stroke-linejoin="round">1</text>
<g transform="translate(1032.50 199.80) scale(0.9787 1.0092)" fill="none" stroke="#000000"><path d="M3.9 0.75L9.0 0.45" stroke-width="1.05"/><path d="M7.3 0.6L1.3 21.3" stroke-width="2.4"/><path d="M4.6 13.8C6.4 10.6 9.0 8.2 11.5 8.2C13.3 8.2 13.9 9.6 13.4 11.3L10.7 18.8C10.1 20.5 10.4 21.3 11.1 21.1C12.1 20.8 13.2 19.7 14.0 18.6" stroke-width="1.05" stroke-linecap="round"/><path d="M13.2 11.6L10.9 18.0" stroke-width="2.3"/></g>
<text transform="translate(1052.23 210.90) scale(0.6506 1)" font-size="22.27" font-style="normal" fill="#000000" stroke="#000000" stroke-width="0.15" vector-effect="non-scaling-stroke" stroke-linejoin="round">1</text>
<text transform="translate(1118.63 225.80) scale(1.0096 1)" font-size="31.19" font-style="italic" fill="#ff0000" stroke="#fff" stroke-width="0.25" vector-effect="non-scaling-stroke">e</text>
<text transform="translate(1132.61 227.64) scale(1.0595 1)" font-size="24.90" font-style="italic" fill="#ff0000" stroke="#fff" stroke-width="0.25" vector-effect="non-scaling-stroke">α</text>
<text transform="translate(848.93 319.01) scale(1.0517 1)" font-size="29.94" font-style="italic" fill="#0000ff" stroke="#fff" stroke-width="0.25" vector-effect="non-scaling-stroke">e</text>
<g transform="translate(864.00 311.50) scale(1.0000 1.0000)" fill="none" stroke="#0000ff"><path d="M0.5 4.0C1.3 2.3 2.3 0.9 3.5 0.9C4.7 0.9 5.3 2.5 5.4 5.0L5.5 8.8" stroke-width="1.25" stroke-linecap="round"/><path d="M11.3 0.9L5.3 9.3" stroke-width="1.9" stroke-linecap="round"/><path d="M5.5 9.0L3.1 15.3" stroke-width="2.5"/></g>
<text transform="translate(1164.53 319.30) scale(1.0302 1)" font-size="30.56" font-style="italic" fill="#0000ff" stroke="#fff" stroke-width="0.25" vector-effect="non-scaling-stroke">e</text>
<text transform="translate(1177.11 325.02) scale(1.0987 1)" font-size="22.90" font-style="italic" fill="#0000ff" stroke="#fff" stroke-width="0.25" vector-effect="non-scaling-stroke">β</text>
<text transform="translate(961.93 333.91) scale(1.0517 1)" font-size="29.94" font-style="italic" fill="#ff0000" stroke="#fff" stroke-width="0.25" vector-effect="non-scaling-stroke">e</text>
<text transform="translate(975.66 339.66) scale(1.0526 1)" font-size="24.14" font-style="italic" fill="#ff0000" stroke="#fff" stroke-width="0.25" vector-effect="non-scaling-stroke">δ</text>
<text transform="translate(876.29 405.21) scale(0.9918 1)" font-size="29.94" font-style="italic" fill="#000000" stroke="#fff" stroke-width="0.25" vector-effect="non-scaling-stroke">e</text>
<text transform="translate(892.99 394.90) scale(1.0267 1)" font-size="22.35" font-style="normal" fill="#000000" stroke="#000000" stroke-width="0.15" vector-effect="non-scaling-stroke" stroke-linejoin="round">2</text>
<g transform="translate(1244.00 343.70) scale(1.0051 0.9930)" fill="none" stroke="#000000" stroke-linecap="round"><path d="M18.3 1.9C18.2 0.4 16.6 -0.1 15.2 0.8C13.6 1.9 12.6 4.0 11.8 6.9L7.0 22.9C6.2 25.8 4.6 27.9 3.0 27.9C1.9 27.9 1.1 27.3 1.0 26.6" stroke-width="1.15"/><path d="M11.3 8.6L7.6 20.8" stroke-width="2.4"/><path d="M7.2 8.9H14.0" stroke-width="1.1" stroke-linecap="butt"/><circle cx="18.4" cy="2.0" r="1.35" fill="#000000" stroke="none"/><circle cx="1.3" cy="26.6" r="1.25" fill="#000000" stroke="none"/></g>
<text transform="translate(1263.62 354.80) scale(1.0138 1)" font-size="21.90" font-style="normal" fill="#000000" stroke="#000000" stroke-width="0.15" vector-effect="non-scaling-stroke" stroke-linejoin="round">2</text>
<g transform="translate(716.00 457.30) scale(1.0066 1.0505)" fill="none" stroke="#000000"><ellipse cx="7.6" cy="4.9" rx="4.9" ry="3.9" transform="rotate(-22 7.6 4.9)" stroke-width="1.45"/><path d="M10.6 1.6L15.0 1.3" stroke-width="1.1"/><path d="M3.8 3.1Q1.5 7.4 5.8 8.9" stroke-width="2.3" stroke-linecap="round"/><path d="M12.0 2.4Q12.7 5.0 11.2 6.9" stroke-width="1.8" stroke-linecap="round"/><path d="M10.0 12.4C12.2 13.3 12.8 15.5 10.8 17.8" stroke-width="2.2" stroke-linecap="round"/><path d="M4.6 8.4C3.2 9.4 3.0 10.6 4.6 11.2C7.5 12.0 11.6 12.4 12.3 14.8C12.9 17.2 9.6 19.2 5.6 19.1C2.2 19.0 0.6 17.9 0.8 16.5C1.0 15.1 2.4 14.1 4.2 13.6" stroke-width="1.35"/></g>
<text transform="translate(734.78 460.00) scale(1.0817 1)" font-size="21.45" font-style="normal" fill="#000000" stroke="#000000" stroke-width="0.15" vector-effect="non-scaling-stroke" stroke-linejoin="round">2</text>
<g transform="translate(1032.50 411.00) scale(0.9504 0.9908)" fill="none" stroke="#000000"><path d="M3.9 0.75L9.0 0.45" stroke-width="1.05"/><path d="M7.3 0.6L1.3 21.3" stroke-width="2.4"/><path d="M4.6 13.8C6.4 10.6 9.0 8.2 11.5 8.2C13.3 8.2 13.9 9.6 13.4 11.3L10.7 18.8C10.1 20.5 10.4 21.3 11.1 21.1C12.1 20.8 13.2 19.7 14.0 18.6" stroke-width="1.05" stroke-linecap="round"/><path d="M13.2 11.6L10.9 18.0" stroke-width="2.3"/></g>
<text transform="translate(1050.39 421.60) scale(1.0267 1)" font-size="22.35" font-style="normal" fill="#000000" stroke="#000000" stroke-width="0.15" vector-effect="non-scaling-stroke" stroke-linejoin="round">2</text>
<line x1="592.7" y1="291.6" x2="647" y2="291.6" stroke="#000" stroke-width="2.9"/>
<path d="M639.5 284.0L646.9 291.6L639.5 299.2" fill="none" stroke="#000" stroke-width="2.9"/>
</svg></body></html>
